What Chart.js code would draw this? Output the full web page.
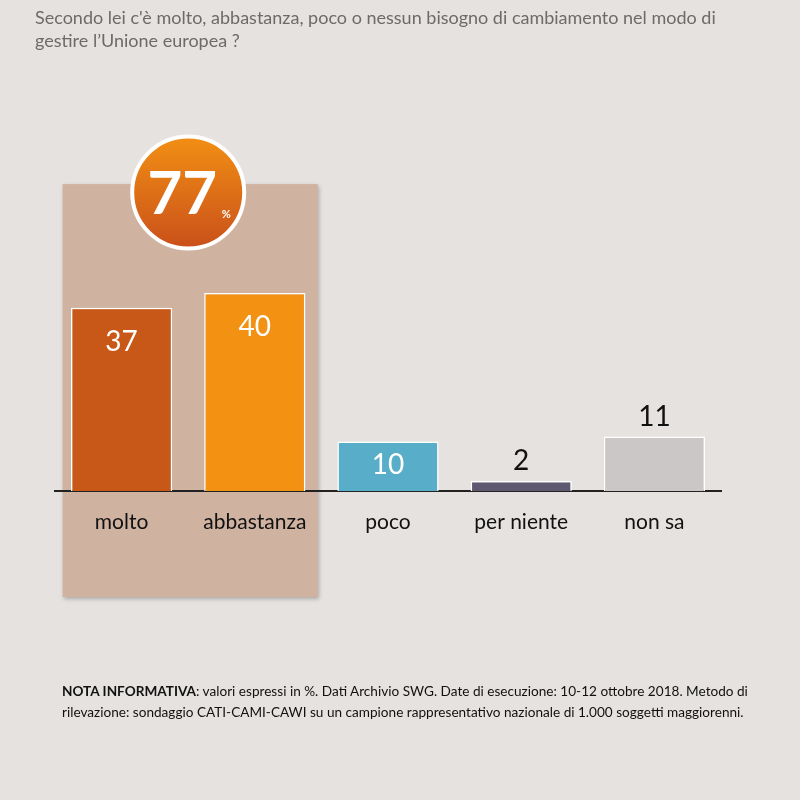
<!DOCTYPE html>
<html>
<head>
<meta charset="utf-8">
<script src="https://cdn.jsdelivr.net/npm/chart.js@4.4.1/dist/chart.umd.min.js"></script>
<style>
  html, body { margin: 0; padding: 0; background: #e6e2df; }
  #wrap { position: relative; width: 800px; height: 800px; font-family: Lato, "Open Sans", sans-serif; }
  #title { position: absolute; left: 35px; top: 6px; width: 760px; font-size: 18px; line-height: 23px; color: #6d6a69; white-space: nowrap; }
  #note { position: absolute; left: 62px; top: 681px; width: 720px; font-size: 13.6px; line-height: 21px; color: #111; }
  canvas { position: absolute; left: 0; top: 0; }
</style>
</head>
<body>
<div id="wrap">
  <canvas id="chart" width="800" height="800"></canvas>
  <div id="title">Secondo lei c'è molto, abbastanza, poco o nessun bisogno di cambiamento nel modo di<br>gestire l’Unione europea ?</div>
  <div id="note"><b>NOTA INFORMATIVA</b>: valori espressi in %. Dati Archivio SWG. Date di esecuzione: 10-12 ottobre 2018. Metodo di rilevazione: sondaggio CATI-CAMI-CAWI su un campione rappresentativo nazionale di 1.000 soggetti maggiorenni.</div>
</div>
<script>
// ================= DATA =================
const categories = ["molto", "abbastanza", "poco", "per niente", "non sa"];
const values = [37, 40, 10, 2, 11];
const totalLabel = "77";   // molto + abbastanza

const barColors = ["#c85817", "#f39112", "#58adc8", "#5e5870", "#cbc7c7"];
const labelInside = [true, true, true, false, false];

// ================= HIGHLIGHT BOX + CIRCLE =================
const highlight = {
  id: "highlight",
  beforeDraw(chart) {
    const ctx = chart.ctx;
    const x = chart.scales.x, y = chart.scales.y;
    const left = x.getPixelForValue(0) - 59;
    const right = x.getPixelForValue(1) + 63;
    const top = y.getPixelForValue(62);
    const bottom = 597;

    ctx.save();
    ctx.shadowColor = "rgba(0,0,0,0.25)";
    ctx.shadowBlur = 4;
    ctx.shadowOffsetX = 1;
    ctx.shadowOffsetY = 2;
    ctx.fillStyle = "#cfb3a0";
    ctx.fillRect(left, top, right - left, bottom - top);
    ctx.restore();
  },
  afterDatasetsDraw(chart) {
    const ctx = chart.ctx;
    const x = chart.scales.x, y = chart.scales.y;
    const cx = (x.getPixelForValue(0) + x.getPixelForValue(1)) / 2;
    const cy = y.getPixelForValue(60.3);
    const r = 56;

    ctx.save();
    const g = ctx.createLinearGradient(0, cy - r, 0, cy + r);
    g.addColorStop(0, "#f28f14");
    g.addColorStop(1, "#c9501a");
    ctx.beginPath();
    ctx.arc(cx, cy, r, 0, Math.PI * 2);
    ctx.fillStyle = g;
    ctx.fill();
    ctx.lineWidth = 4;
    ctx.strokeStyle = "#ffffff";
    ctx.stroke();

    ctx.fillStyle = "#ffffff";
    ctx.textAlign = "center";
    ctx.textBaseline = "middle";
    ctx.font = "bold 60px Lato, 'Open Sans', sans-serif";
    ctx.fillText(totalLabel, cx - 6, cy + 2);
    ctx.font = "bold 11px Lato, 'Open Sans', sans-serif";
    ctx.fillText("%", cx + 38, cy + 22);
    ctx.restore();
  }
};

// ================= VALUE LABELS =================
const valueLabels = {
  id: "valueLabels",
  afterDatasetsDraw(chart) {
    const ctx = chart.ctx;
    const meta = chart.getDatasetMeta(0);
    ctx.save();
    ctx.textAlign = "center";
    ctx.textBaseline = "middle";
    ctx.font = "28px Lato, 'Open Sans', sans-serif";
    meta.data.forEach((bar, i) => {
      if (labelInside[i]) {
        ctx.fillStyle = "#ffffff";
        const off = values[i] > 20 ? 34 : 23;
        ctx.fillText(String(values[i]), bar.x, bar.y + off);
      } else {
        ctx.fillStyle = "#111111";
        ctx.fillText(String(values[i]), bar.x, bar.y - 20);
      }
    });
    ctx.restore();
  }
};

new Chart(document.getElementById("chart"), {
  type: "bar",
  data: {
    labels: categories,
    datasets: [{
      data: values,
      backgroundColor: barColors,
      borderColor: "#ffffff",
      borderWidth: 1.5,
      borderSkipped: "bottom",
      categoryPercentage: 1,
      barPercentage: 0.76
    }]
  },
  options: {
    responsive: false,
    animation: false,
    events: [],
    layout: { padding: { left: 55, right: 79, top: 95, bottom: 0 } },
    plugins: {
      legend: { display: false },
      tooltip: { enabled: false }
    },
    scales: {
      x: {
        grid: { display: false, drawTicks: false },
        border: { display: true, color: "#222222", width: 2 },
        ticks: {
          color: "#111111",
          padding: 19,
          font: { family: "Lato, 'Open Sans', sans-serif", size: 21 }
        },
        afterFit(scale) { scale.height = 309; }
      },
      y: {
        display: false,
        min: 0,
        max: 80
      }
    }
  },
  plugins: [highlight, valueLabels]
});
</script>
</body>
</html>
